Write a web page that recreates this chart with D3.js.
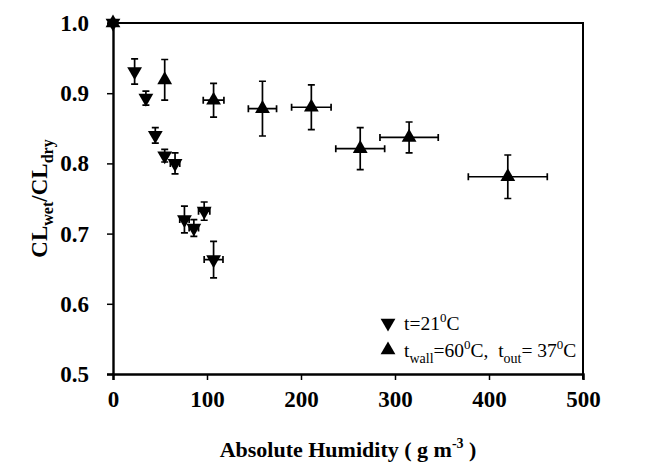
<!DOCTYPE html>
<html>
<head>
<meta charset="utf-8">
<script src="https://cdn.jsdelivr.net/npm/d3@7"></script>
<style>
  body { margin: 0; background: #fff; }
  text { font-family: "Liberation Serif", "Times New Roman", Times, serif; }
</style>
</head>
<body>
<div id="chart"></div>
<script>
// CL ratio vs absolute humidity

const width = 648,
    height = 468,
    margin = ({ top: 23, right: 65, bottom: 94, left: 113 });

// t = 21 C (down triangles)
const coldX = [0, 23, 35, 45, 55, 66, 76, 86, 97, 107];
const coldY = [1.0, 0.931, 0.893, 0.840, 0.811, 0.800, 0.720, 0.708, 0.732, 0.663];
const coldXErr = [0, 0, 0, 0, 0, 5, 5, 5, 6, 10];
const coldYErr = [0, 0.018, 0.010, 0.011, 0.009, 0.015, 0.019, 0.012, 0.013, 0.026];

// t_wall = 60 C, t_out = 37 C (up triangles)
const hotX = [0, 55, 107, 159, 211, 263, 315, 420];
const hotY = [1.0, 0.919, 0.890, 0.878, 0.880, 0.821, 0.837, 0.781];
const hotXErr = [0, 0, 11, 15, 21, 26, 31, 42];
const hotYErr = [0, 0.029, 0.024, 0.039, 0.032, 0.030, 0.022, 0.031];

const xTicks = [0, 100, 200, 300, 400, 500];
const yTicks = [0.5, 0.6, 0.7, 0.8, 0.9, 1.0];

const svg = d3.select("#chart")
  .append("svg")
  .attr("width", width)
  .attr("height", height);

const x = d3.scaleLinear()
  .domain([0, 500])
  .range([margin.left, width - margin.right]);

const y = d3.scaleLinear()
  .domain([0.5, 1.0])
  .range([height - margin.bottom, margin.top]);

// frame: top and right lines
svg.append("path")
  .attr("d", `M${x(0)},${y(1)}H${x(500)}V${y(0.5) + 5}`)
  .attr("fill", "none")
  .attr("stroke", "#000")
  .attr("stroke-width", 2);

const xAxis = svg.append("g")
  .attr("transform", `translate(0,${y(0.5)})`)
  .call(d3.axisBottom(x).tickValues(xTicks).tickSize(6).tickPadding(10).tickFormat(d3.format("d")));

const yAxis = svg.append("g")
  .attr("transform", `translate(${x(0)},0)`)
  .call(d3.axisLeft(y).tickValues(yTicks).tickSize(6).tickPadding(18).tickFormat(d3.format(".1f")));

[xAxis, yAxis].forEach(g => {
  g.select(".domain").attr("stroke-width", 2.4);
  g.selectAll(".tick line").attr("stroke-width", 1.5);
  g.selectAll("text")
    .attr("font-weight", "bold")
    .attr("font-size", 23)
    .attr("fill", "#000");
});
yAxis.selectAll("text").attr("dy", "0.33em");
xAxis.selectAll("text").attr("dy", "0.76em");

// error bars
function errorBars(xs, ys, xe, ye) {
  const g = svg.append("g")
    .attr("stroke", "#000")
    .attr("stroke-width", 1.7)
    .attr("fill", "none");
  const cap = 3.5;
  xs.forEach((v, i) => {
    if (ye[i] > 0) {
      const cx = x(v), y0 = y(ys[i] - ye[i]), y1 = y(ys[i] + ye[i]);
      g.append("path").attr("d", `M${cx},${y0}V${y1}M${cx - cap},${y0}H${cx + cap}M${cx - cap},${y1}H${cx + cap}`);
    }
    if (xe[i] > 0) {
      const cy = y(ys[i]), x0 = x(v - xe[i]), x1 = x(v + xe[i]);
      g.append("path").attr("d", `M${x0},${cy}H${x1}M${x0},${cy - cap}V${cy + cap}M${x1},${cy - cap}V${cy + cap}`);
    }
  });
}

errorBars(coldX, coldY, coldXErr, coldYErr);
errorBars(hotX, hotY, hotXErr, hotYErr);

const tri = d3.symbol().type(d3.symbolTriangle).size(95);

svg.append("g")
  .selectAll("path")
  .data(d3.zip(coldX, coldY))
  .join("path")
  .attr("d", tri)
  .attr("transform", d => `translate(${x(d[0])},${y(d[1])}) rotate(180)`)
  .attr("fill", "#000");

svg.append("g")
  .selectAll("path")
  .data(d3.zip(hotX, hotY))
  .join("path")
  .attr("d", tri)
  .attr("transform", d => `translate(${x(d[0])},${y(d[1])})`)
  .attr("fill", "#000");

// legend
const legend = svg.append("g")
  .attr("font-size", 19.5)
  .attr("fill", "#000");

legend.append("path")
  .attr("d", tri)
  .attr("transform", "translate(388,323) rotate(180)");
const l1 = legend.append("text").attr("x", 404).attr("y", 330);
l1.append("tspan").text("t=21");
l1.append("tspan").attr("dy", -8).attr("font-size", 13).text("0");
l1.append("tspan").attr("dy", 8).text("C");

legend.append("path")
  .attr("d", tri)
  .attr("transform", "translate(388,350)");
const l2 = legend.append("text").attr("x", 404).attr("y", 357).attr("xml:space", "preserve");
l2.append("tspan").text("t");
l2.append("tspan").attr("dy", 6).attr("font-size", 14).text("wall");
l2.append("tspan").attr("dy", -6).text("=60");
l2.append("tspan").attr("dy", -8).attr("font-size", 13).text("0");
l2.append("tspan").attr("dy", 8).text("C,  t");
l2.append("tspan").attr("dy", 6).attr("font-size", 14).text("out");
l2.append("tspan").attr("dy", -6).text("= 37");
l2.append("tspan").attr("dy", -8).attr("font-size", 13).text("0");
l2.append("tspan").attr("dy", 8).text("C");

// axis titles
const xt = svg.append("text")
  .attr("x", (margin.left + width - margin.right) / 2)
  .attr("y", 457)
  .attr("text-anchor", "middle")
  .attr("font-weight", "bold")
  .attr("font-size", 22);
xt.append("tspan").text("Absolute Humidity ( g m");
xt.append("tspan").attr("dy", -9).attr("font-size", 14).text("-3");
xt.append("tspan").attr("dy", 9).text(" )");

const yt = svg.append("text")
  .attr("transform", `translate(47,${y(0.75)}) rotate(-90)`)
  .attr("text-anchor", "middle")
  .attr("font-weight", "bold")
  .attr("font-size", 23);
yt.append("tspan").text("CL");
yt.append("tspan").attr("dy", 6).attr("font-size", 16).text("wet");
yt.append("tspan").attr("dy", -6).text("/CL");
yt.append("tspan").attr("dy", 6).attr("font-size", 16).text("dry");
</script>
</body>
</html>
